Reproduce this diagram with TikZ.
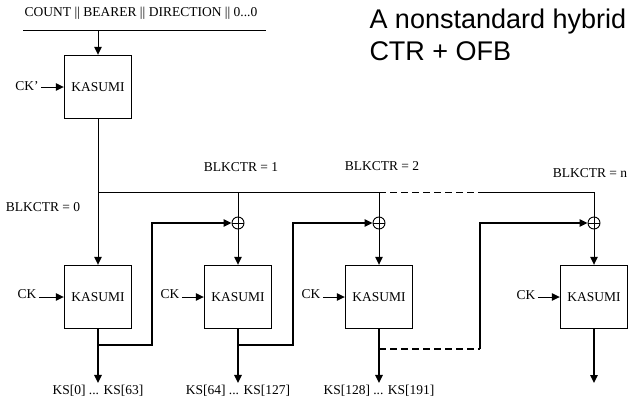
\documentclass[tikz,border=0pt]{standalone}
\usepackage{fontspec}
\setmainfont{Liberation Serif}
\newfontfamily\titlefont{Liberation Sans}
\usetikzlibrary{arrows.meta}
\tikzset{kasumi/.style={draw, line width=1.4pt, minimum width=67pt, minimum height=63pt, font=\fontsize{13.5}{16}\selectfont},
  xorc/.style={draw, circle, line width=0.9pt, minimum size=12pt, inner sep=0pt,
    path picture={\draw[line width=0.9pt] (path picture bounding box.north) -- (path picture bounding box.south)
      (path picture bounding box.west) -- (path picture bounding box.east);}},
  lbl/.style={font=\fontsize{13.5}{16}\selectfont, inner sep=2pt},
  arr/.style={-{Triangle[length=8pt,width=7.5pt]}},
  gapline/.style={dash pattern=on 7pt off 4pt}}

\begin{document}
\begin{tikzpicture}[x=1pt,y=-1pt,line width=1pt]
\useasboundingbox (0,0) rectangle (629,399);
\node[anchor=base west, inner sep=0pt, font=\titlefont\fontsize{27}{32}\selectfont] (t1) at (369,28) {A nonstandard hybrid};
\node[anchor=base west, inner sep=0pt, font=\titlefont\fontsize{27}{32}\selectfont] (t2) at (369,60) {CTR + OFB};
% initial value through KASUMI with CK'
\node[lbl] (iv) at (141,13) {COUNT || BEARER || DIRECTION || 0...0};
\coordinate (ivl) at (23,30);
\coordinate (ivr) at (266,30);
\draw (ivl) -- (ivr);
\node[kasumi] (k0) at (98,87) {KASUMI};
\draw[arr] (k0.north |- ivl) -- (k0.north);
\node[lbl] (ckp) at (27,86) {CK'};
\draw[arr] (ckp.east |- k0) -- (k0.west);
% keystream blocks
\node[kasumi] (k1) at (98,297) {KASUMI};
\node[kasumi] (k2) at (238,297) {KASUMI};
\node[kasumi] (k3) at (379,297) {KASUMI};
\node[kasumi] (k4) at (594,297) {KASUMI};
\node[lbl] (ck1) at (27,294) {CK};
\node[lbl] (ck2) at (170,294) {CK};
\node[lbl] (ck3) at (311,294) {CK};
\node[lbl] (ck4) at (526,295) {CK};
\draw[arr] (ck1.east |- k1) -- (k1.west);
\draw[arr] (ck2.east |- k2) -- (k2.west);
\draw[arr] (ck3.east |- k3) -- (k3.west);
\draw[arr] (ck4.east |- k4) -- (k4.west);
\node[xorc] (x1) at (238,223) {};
\node[xorc] (x2) at (379,223) {};
\node[xorc] (x4) at (594,223) {};
\node[lbl] (b0) at (43,207) {BLKCTR = 0};
\node[lbl] (b1) at (241,167) {BLKCTR = 1};
\node[lbl] (b2) at (382,166) {BLKCTR = 2};
\node[lbl] (bn) at (590,173) {BLKCTR = n};
% counter bus
\coordinate (bus) at (98,192);
\coordinate (gap) at (480,192);
\draw (k0.south) -- (bus) -- (bus -| x2);
\draw[gapline] (bus -| x2) -- (gap);
\draw (gap) -| (x4.north);
\draw[arr] (bus) -- (k1.north);
\draw (bus -| x1) -- (x1.north);
\draw (bus -| x2) -- (x2.north);
\draw[arr] (x1) -- (k2);
\draw[arr] (x2) -- (k3);
\draw[arr] (x4) -- (k4);
% outputs
\node[lbl] (ks1) at (98,391) {KS[0] ... KS[63]};
\node[lbl] (ks2) at (238,391) {KS[64] ... KS[127]};
\node[lbl] (ks3) at (379,391) {KS[128] ... KS[191]};
\coordinate (out4) at (594,383);
\draw[arr, line width=1.3pt] (k1.south) -- (ks1.north);
\draw[arr, line width=1.3pt] (k2.south) -- (ks2.north);
\draw[arr, line width=1.3pt] (k3.south) -- (ks3.north);
\draw[arr, line width=1.3pt] (k4.south) -- (out4);
% feedback into the next block
\coordinate (fb1) at (98,345);
\coordinate (fb2) at (238,345);
\coordinate (fb3) at (379,349);
\coordinate (gap3) at (480,349);
\draw[arr, line width=1.3pt] (fb1) -- ++(54,0) |- (x1.west);
\draw[arr, line width=1.3pt] (fb2) -- ++(55,0) |- (x2.west);
\draw[gapline, line width=1.3pt] (fb3) -- (gap3);
\draw[arr, line width=1.3pt] (gap3) |- (x4.west);
\end{tikzpicture}
\end{document}
